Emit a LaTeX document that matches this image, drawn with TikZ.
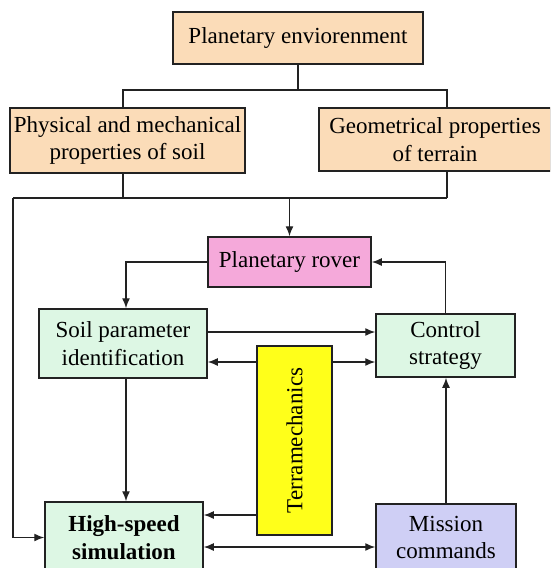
\documentclass[tikz,border=0pt]{standalone}
\usepackage{fontspec}
\setmainfont{Liberation Serif}
\usetikzlibrary{arrows.meta}
\definecolor{peach}{HTML}{FBDCB8}
\definecolor{roverpink}{HTML}{F5A9DA}
\definecolor{lgreen}{HTML}{DDF7E4}
\definecolor{tyellow}{HTML}{FFFF1A}
\definecolor{lav}{HTML}{CFCFF5}
\definecolor{edge}{HTML}{222222}
\begin{document}
\begin{tikzpicture}[x=1pt,y=-1pt,
  box/.style={draw=edge,line width=1.5pt,align=center,inner sep=0pt,
    font=\fontsize{23}{27.5}\selectfont},
  conn/.style={draw=edge,line width=1.4pt},
  arr/.style={conn,-{Latex[length=10pt,width=8pt]}},
  arrb/.style={conn,{Latex[length=10pt,width=8pt]}-{Latex[length=10pt,width=8pt]}}]
\clip (0,0) rectangle (550,568);
\fill[white] (0,0) rectangle (550,568);
% nodes
\node[box,fill=peach,minimum width=250pt,minimum height=52pt] (env) at (298,38) {Planetary enviorenment};
\node[box,fill=peach,minimum width=235pt,minimum height=65pt] (phys) at (127.5,140.5) {Physical and mechanical\\properties of soil};
\node[box,fill=peach,minimum width=232pt,minimum height=63pt] (geo) at (435,139.5) {Geometrical properties\\of terrain};
\node[box,fill=roverpink,minimum width=163pt,minimum height=50pt] (rover) at (289.5,262) {Planetary rover};
\node[box,fill=lgreen,minimum width=168pt,minimum height=69pt] (soil) at (123,343.5) {Soil parameter\\identification};
\node[box,fill=lgreen,minimum width=139pt,minimum height=63pt] (control) at (445.5,345.5) {Control\\strategy};
\node[box,fill=tyellow,minimum width=75pt,minimum height=189pt] (terra) at (294.5,440.5) {\rotatebox{90}{Terramechanics}};
\node[box,fill=lgreen,minimum width=158pt,minimum height=71pt] (hs) at (124,537.5) {\textbf{High-speed}\\\textbf{simulation}};
\node[box,fill=lav,minimum width=140pt,minimum height=67pt] (mission) at (446,537.5) {Mission\\commands};
% top tree
\coordinate (tl) at (123,90);
\coordinate (tr) at (447,90);
\draw[conn] (env.south) -- (env.south |- tl);
\draw[conn] (tl |- phys.north) -- (tl) -- (tr) -- (tr |- geo.north);
% collecting line
\coordinate (bl) at (13,198);
\coordinate (br) at (447,198);
\draw[conn] (tl |- phys.south) -- (tl |- bl);
\draw[conn] (br |- geo.south) -- (br);
\draw[draw=edge,line width=2.6pt] (bl) -- (br);
\draw[arr] (rover.north |- bl) -- (rover.north);
\draw[arr] (bl) |- (hs.west);
% rover loop
\draw[arr] (rover.west) -| ([xshift=3pt]soil.north);
\draw[arr] (control.north) |- (rover.east);
% middle
\draw[arr] ([yshift=11.5pt]soil.east) -- ([yshift=11.5pt]soil.east -| control.west);
\draw[arr] ([yshift=78.5pt]terra.west) -- ([yshift=78.5pt]terra.west -| soil.east);
\draw[arr] ([yshift=78.5pt]terra.east) -- ([yshift=78.5pt]terra.east -| control.west);
\draw[arr] ([xshift=3pt]soil.south) -- ([xshift=3pt]soil.south |- hs.north);
\draw[arr] ([yshift=-74.5pt]terra.west) -- ([yshift=-74.5pt]terra.west -| hs.east);
\draw[arrb] ([yshift=-9.5pt]hs.east) -- ([yshift=-9.5pt]hs.east -| mission.west);
\draw[arr] (mission.north) -- (mission.north |- control.south);
\end{tikzpicture}
\end{document}
